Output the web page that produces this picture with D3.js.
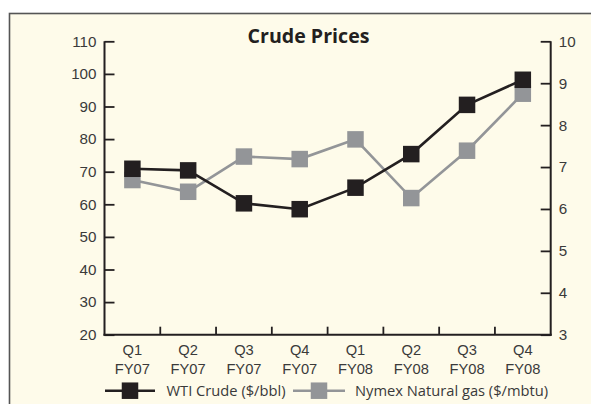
<!DOCTYPE html>
<html><head><meta charset="utf-8">
<script src="https://cdn.jsdelivr.net/npm/d3@7"></script>
<style>
html,body{margin:0;padding:0;background:#fff;}
svg{display:block;font-family:"Open Sans","Noto Sans",sans-serif;}
</style></head>
<body>
<svg id="chart" width="591" height="404"></svg>
<script>
const categories = ["Q1|FY07","Q2|FY07","Q3|FY07","Q4|FY07","Q1|FY08","Q2|FY08","Q3|FY08","Q4|FY08"];
const wtiCrude = [70.9, 70.4, 60.3, 58.5, 65.1, 75.4, 90.5, 98.2];
const natGas = [6.69, 6.41, 7.25, 7.19, 7.66, 6.26, 7.39, 8.75];
const leftTicks = [20,30,40,50,60,70,80,90,100,110];
const rightTicks = [3,4,5,6,7,8,9,10];
const seriesNames = ["WTI Crude ($/bbl)", "Nymex Natural gas ($/mbtu)"];

const svg = d3.select("#chart");
const W = 591, H = 404;
const m = {left:104.5, right:550.7, top:41.3, bottom:334.7};
const black = "#231f20", grey = "#939598", txt = "#3a3a3a";

// frame
svg.append("rect").attr("x",9.5).attr("y",13.5).attr("width",W).attr("height",H)
  .attr("fill","#fefbea").attr("stroke","#555").attr("stroke-width",1.6);

const x = d3.scaleBand().domain(categories).range([m.left,m.right]).padding(0);
const yL = d3.scaleLinear().domain([20,110]).range([m.bottom,m.top]);
const yR = d3.scaleLinear().domain([3,10]).range([m.bottom,m.top]);

// title
svg.append("text").attr("x",308.5).attr("y",43.3).attr("text-anchor","middle")
  .attr("font-weight","bold").attr("font-size",19.6).attr("fill",black).text("Crude Prices");

// left axis
const gL = svg.append("g").attr("transform",`translate(${m.left},0)`)
  .call(d3.axisLeft(yL).tickValues(leftTicks).tickFormat(d3.format("d")).tickSizeInner(-10).tickSizeOuter(0).tickPadding(8));
// right axis
const gR = svg.append("g").attr("transform",`translate(${m.right},0)`)
  .call(d3.axisRight(yR).tickValues(rightTicks).tickFormat(d3.format("d")).tickSizeInner(-10).tickSizeOuter(0).tickPadding(8));
// bottom axis: ticks at category boundaries
const gB = svg.append("g").attr("transform",`translate(0,${m.bottom})`)
  .call(d3.axisBottom(x).tickSize(0).tickPadding(8).tickFormat(""));
const bounds = categories.slice(1).map(c => x(c));
gB.selectAll(".bt").data(bounds).enter().append("line").attr("class","bt")
  .attr("x1",d=>d).attr("x2",d=>d).attr("y1",0).attr("y2",-8)
  .attr("stroke",black).attr("stroke-width",1.8);
gB.selectAll(".cl").data(categories).enter().append("text").attr("class","cl")
  .attr("x",d=>x(d)+x.bandwidth()/2).attr("text-anchor","middle")
  .attr("font-size",14.7).attr("fill",txt)
  .each(function(d){
    const parts = d.split("|");
    const t = d3.select(this);
    t.append("tspan").attr("x",x(d)+x.bandwidth()/2).attr("y",20.5).text(parts[0]);
    t.append("tspan").attr("x",x(d)+x.bandwidth()/2).attr("y",39).text(parts[1]);
  });

[gL,gR,gB].forEach(g=>{
  g.selectAll(".domain").attr("stroke",black).attr("stroke-width",2);
  g.selectAll(".tick line").attr("stroke",black).attr("stroke-width",1.8);
  g.selectAll(".tick text").attr("font-size",15.2).attr("fill",txt).attr("font-family","inherit");
});
gL.select(".domain").attr("d",`M0,${m.top}V${m.bottom+1}`);
gR.select(".domain").attr("d",`M0,${m.top}V${m.bottom+1}`);
gB.select(".domain").attr("d",`M${m.left-1},0H${m.right+1}`);

const cx = d => x(d)+x.bandwidth()/2;
const S = 16.5;
function drawSeries(vals, yScale, color){
  const line = d3.line().x((d,i)=>cx(categories[i])).y(d=>yScale(d));
  svg.append("path").datum(vals).attr("d",line).attr("fill","none")
    .attr("stroke",color).attr("stroke-width",2.6);
  svg.selectAll(null).data(vals).enter().append("rect")
    .attr("x",(d,i)=>cx(categories[i])-S/2).attr("y",d=>yScale(d)-S/2)
    .attr("width",S).attr("height",S).attr("fill",color);
}
drawSeries(natGas, yR, grey);
drawSeries(wtiCrude, yL, black);

// legend
const ly = 390.7;
const leg = [
  {name:seriesNames[0], color:black, x0:105, x1:155, tx:166.5},
  {name:seriesNames[1], color:grey, x0:293, x1:345, tx:355}
];
leg.forEach(l=>{
  svg.append("line").attr("x1",l.x0).attr("x2",l.x1).attr("y1",ly).attr("y2",ly)
    .attr("stroke",l.color).attr("stroke-width",2.6);
  svg.append("rect").attr("x",(l.x0+l.x1)/2-S/2).attr("y",ly-S/2).attr("width",S).attr("height",S).attr("fill",l.color);
  svg.append("text").attr("x",l.tx).attr("y",ly+5.3).attr("font-size",14.7).attr("fill",txt).text(l.name);
});
</script>
</body></html>
